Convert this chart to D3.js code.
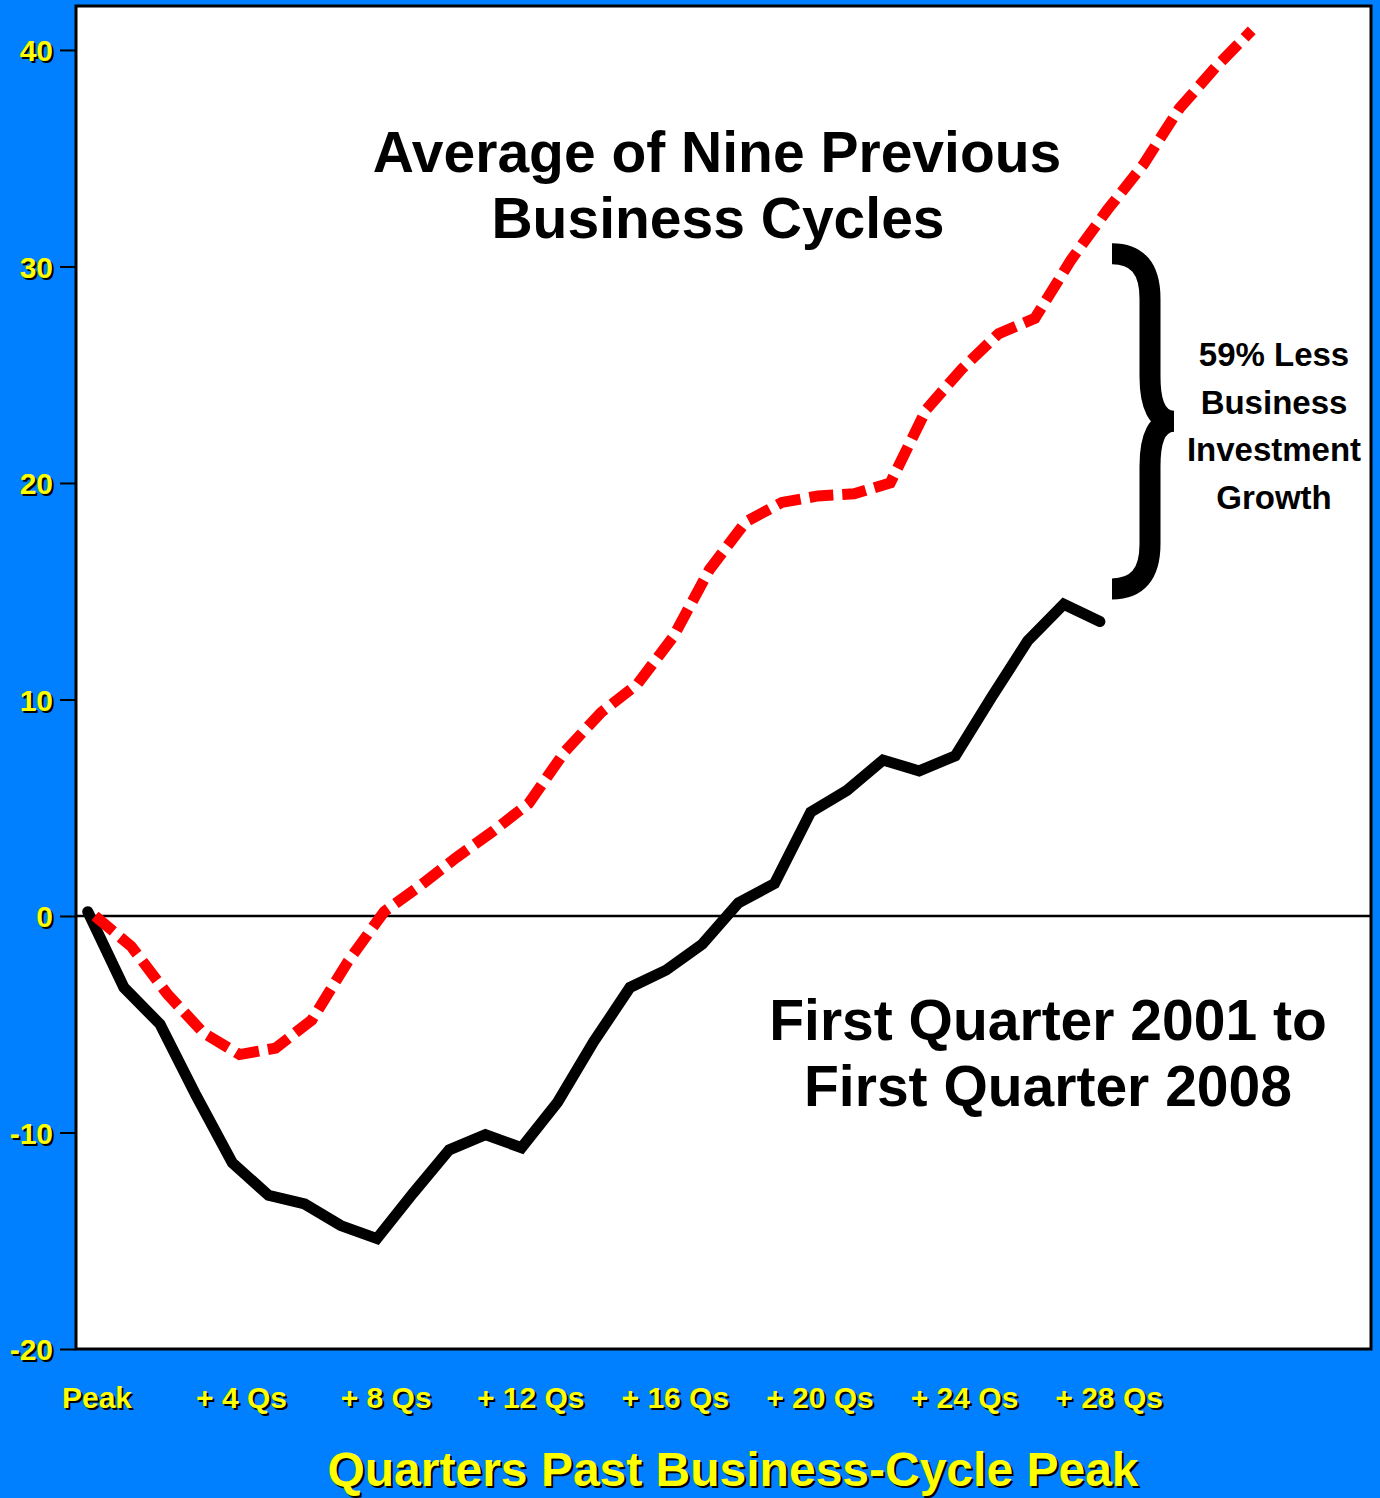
<!DOCTYPE html>
<html>
<head>
<meta charset="utf-8">
<script src="https://cdn.jsdelivr.net/npm/d3@7"></script>
<style>
  html, body { margin: 0; padding: 0; background: #0080ff; }
  svg { display: block; }
  text { font-family: "Liberation Sans", Arial, Helvetica, sans-serif; font-weight: bold; }
</style>
</head>
<body>
<script>
// ---- data ----
const avgQuarters = d3.range(0, 33);
const avgCycles = [0, -1.4, -3.6, -5.4, -6.4, -6.1, -4.8, -2.1, 0.2, 1.4, 2.7, 3.9, 5.2, 7.6, 9.4, 10.7,
  12.9, 16.0, 18.2, 19.1, 19.4, 19.5, 20.0, 23.4, 25.3, 26.9, 27.6, 30.3, 32.6, 34.7, 37.3, 39.2, 40.9];
const curQuarters = d3.range(0, 29);
const current2001 = [0.2, -3.3, -5.0, -8.3, -11.4, -12.9, -13.3, -14.3, -14.9, -12.8, -10.8, -10.1, -10.7,
  -8.6, -5.8, -3.3, -2.5, -1.3, 0.6, 1.5, 4.8, 5.8, 7.2, 6.7, 7.4, 10.1, 12.7, 14.4, 13.6];
const xTickQuarters = [0, 4, 8, 12, 16, 20, 24, 28];
const xTickLabels = ["Peak", "+ 4 Qs", "+ 8 Qs", "+ 12 Qs", "+ 16 Qs", "+ 20 Qs", "+ 24 Qs", "+ 28 Qs"];
const yTicks = [-20, -10, 0, 10, 20, 30, 40];
const gapRange = [14.6, 31.1];

const W = 1380, H = 1498;
const plot = { left: 76, right: 1371, top: 6, bottom: 1349 };
const currentShift = -0.2;

const svg = d3.select("body").append("svg").attr("width", W).attr("height", H);
svg.append("rect").attr("width", W).attr("height", H).attr("fill", "#0080ff");

const x = d3.scaleLinear().domain([-0.525, 35.3]).range([plot.left, plot.right]);
const y = d3.scaleLinear().domain([-20, 42.03]).range([plot.bottom, plot.top]);

// plot frame
svg.append("rect")
  .attr("x", plot.left).attr("y", plot.top)
  .attr("width", plot.right - plot.left).attr("height", plot.bottom - plot.top)
  .attr("fill", "#fff").attr("stroke", "#000").attr("stroke-width", 3);

// y axis ticks
const yAxis = d3.axisLeft(y).tickValues(yTicks).tickSize(16).tickPadding(7).tickFormat(d3.format("d"));
const gy = svg.append("g").attr("transform", `translate(${plot.left},0)`).call(yAxis);
gy.select(".domain").remove();
gy.selectAll(".tick line").attr("stroke", "#000").attr("stroke-width", 2);
gy.selectAll(".tick text").remove();
gy.selectAll(".tick").each(function(d) {
  const g = d3.select(this);
  [["#000", 2, 2], ["#ffff00", 0, 0]].forEach(([c, dx, dy]) => {
    g.append("text").attr("x", -23 + dx).attr("y", dy).attr("dy", "0.36em")
      .attr("text-anchor", "end").attr("font-size", 30).attr("fill", c).text(d);
  });
});

// zero line
svg.append("line").attr("x1", plot.left).attr("x2", plot.right)
  .attr("y1", y(0)).attr("y2", y(0)).attr("stroke", "#000").attr("stroke-width", 2.5);

// x tick labels
xTickQuarters.forEach((q, i) => {
  [["#000", 2, 2], ["#ffff00", 0, 0]].forEach(([c, dx, dy]) => {
    svg.append("text").attr("x", x(q) + 2 + dx).attr("y", 1408 + dy)
      .attr("text-anchor", "middle").attr("font-size", 30).attr("fill", c).text(xTickLabels[i]);
  });
});

// axis title
[["#000", 2, 2], ["#ffff00", 0, 0]].forEach(([c, dx, dy]) => {
  svg.append("text").attr("x", 733 + dx).attr("y", 1486 + dy)
    .attr("text-anchor", "middle").attr("font-size", 48).attr("fill", c)
    .text("Quarters Past Business-Cycle Peak");
});

// lines
const avgLine = d3.line().x((d, i) => x(avgQuarters[i])).y(d => y(d));
const curLine = d3.line().x((d, i) => x(curQuarters[i] + currentShift)).y(d => y(d));

svg.append("path").datum(current2001).attr("d", curLine)
  .attr("fill", "none").attr("stroke", "#000").attr("stroke-width", 11)
  .attr("stroke-linecap", "round").attr("stroke-linejoin", "miter");

svg.append("path").datum(avgCycles).attr("d", avgLine)
  .attr("fill", "none").attr("stroke", "#ff0000").attr("stroke-width", 11)
  .attr("stroke-dasharray", "24 9").attr("stroke-linejoin", "miter");

// titles
const t1 = svg.append("text").attr("text-anchor", "middle").attr("font-size", 57).attr("fill", "#000");
t1.append("tspan").attr("x", 717).attr("y", 172).text("Average of Nine Previous");
t1.append("tspan").attr("x", 718).attr("y", 238).text("Business Cycles");

const t2 = svg.append("text").attr("text-anchor", "middle").attr("font-size", 57).attr("fill", "#000");
t2.append("tspan").attr("x", 1048).attr("y", 1040).text("First Quarter 2001 to");
t2.append("tspan").attr("x", 1048).attr("y", 1106).text("First Quarter 2008");

// brace annotation
const yTop = y(gapRange[1]) + 11, yBot = y(gapRange[0]) - 11, yMid = (yTop + yBot) / 2;
const bx0 = 1112, bx1 = 1150, bx2 = 1174;
const bp = d3.path();
bp.moveTo(bx0, yTop);
bp.quadraticCurveTo(bx1, yTop, bx1, yTop + 45);
bp.lineTo(bx1, yMid - 45);
bp.quadraticCurveTo(bx1, yMid, bx2, yMid);
bp.quadraticCurveTo(bx1, yMid, bx1, yMid + 45);
bp.lineTo(bx1, yBot - 45);
bp.quadraticCurveTo(bx1, yBot, bx0, yBot);
svg.append("path").attr("d", bp.toString()).attr("fill", "none")
  .attr("stroke", "#000").attr("stroke-width", 21).attr("stroke-linejoin", "miter");

const t3 = svg.append("text").attr("text-anchor", "middle").attr("font-size", 33).attr("fill", "#000");
["59% Less", "Business", "Investment", "Growth"].forEach((s, i) => {
  t3.append("tspan").attr("x", 1274).attr("y", 366 + i * 47.5).text(s);
});
</script>
</body>
</html>
